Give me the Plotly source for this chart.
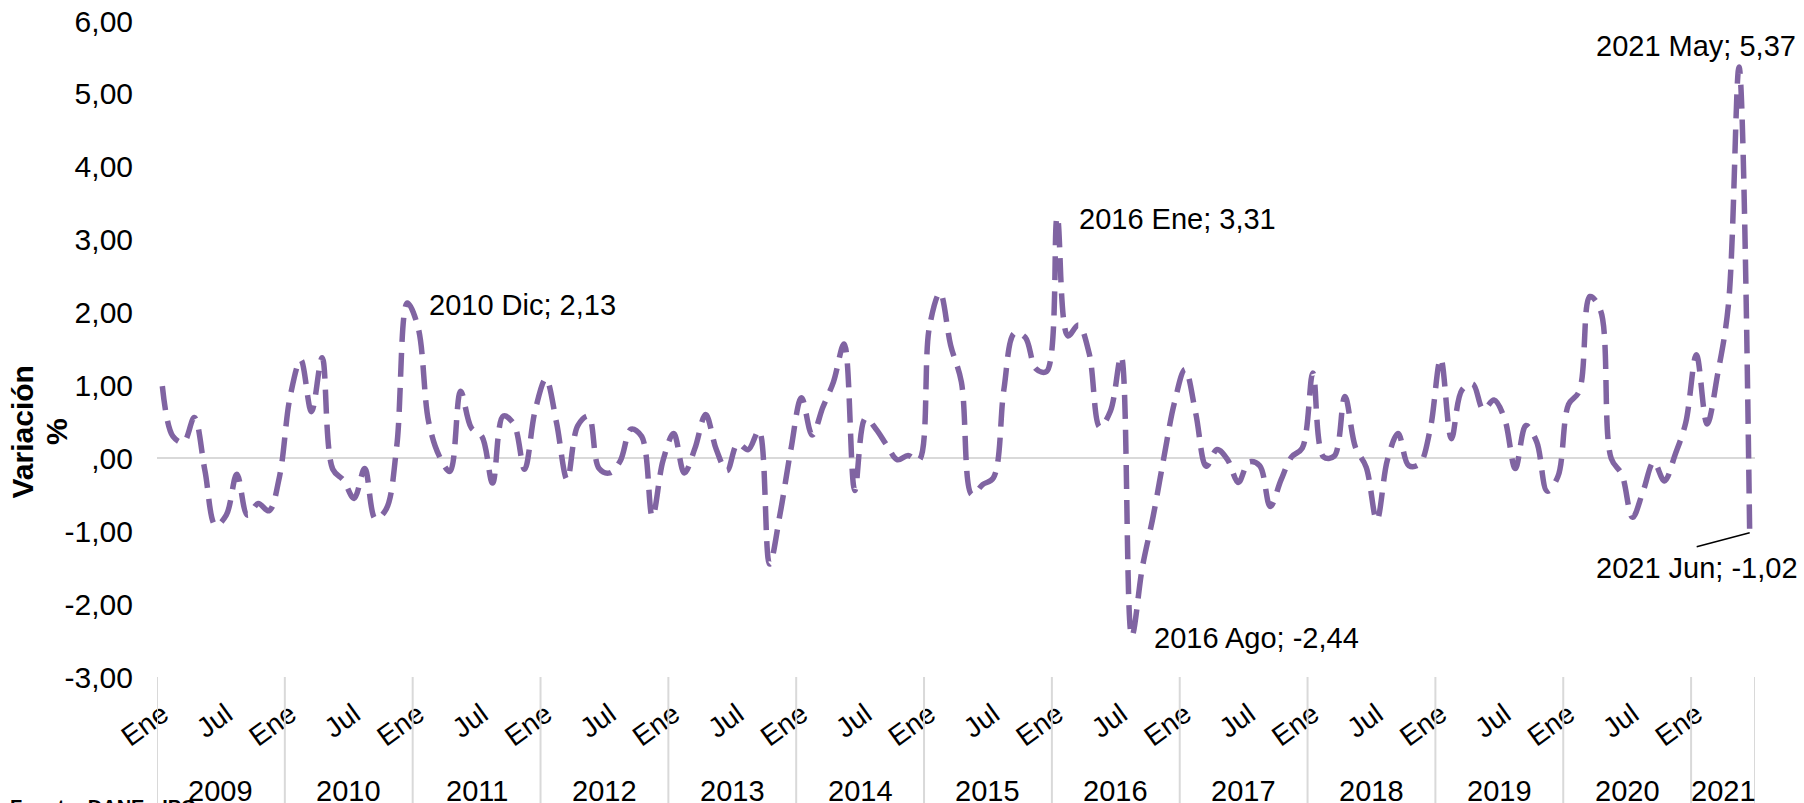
import plotly.graph_objects as go

# ---------------- data ----------------
month_names = ["Ene", "Feb", "Mar", "Abr", "May", "Jun", "Jul", "Ago", "Sep", "Oct", "Nov", "Dic"]
years = [2009, 2010, 2011, 2012, 2013, 2014, 2015, 2016, 2017, 2018, 2019, 2020, 2021]

v2009 = [0.99, 0.30, 0.22, 0.56, -0.17, -0.92, -0.78, -0.22, -0.78, -0.62, -0.72, -0.25]
v2010 = [0.85, 1.35, 0.64, 1.38, -0.15, -0.30, -0.55, -0.14, -0.83, -0.70, 0.16, 2.13]
v2011 = [1.80, 0.50, 0.03, -0.18, 0.92, 0.42, 0.30, -0.34, 0.58, 0.47, -0.15, 0.66]
v2012 = [1.09, 0.49, -0.29, 0.45, 0.58, -0.14, -0.20, -0.03, 0.40, 0.30, -0.80, -0.03]
v2013 = [0.34, -0.20, 0.14, 0.60, 0.12, -0.17, 0.20, 0.12, 0.38, -1.45, -0.75, 0.12]
v2014 = [0.83, 0.32, 0.70, 1.05, 1.57, -0.44, 0.55, 0.40, 0.18, -0.02, 0.04, -0.03]
v2015 = [1.80, 2.27, 1.55, 1.05, -0.50, -0.36, -0.27, 0.95, 1.72, 1.66, 1.23, 1.19]
v2016 = [3.31, 1.68, 1.83, 1.44, 0.43, 0.65, 1.40, -2.44, -1.49, -0.80, 0.00, 0.76]
v2017 = [1.22, 0.62, -0.11, 0.12, -0.02, -0.33, -0.05, -0.10, -0.66, -0.30, 0.02, 0.14]
v2018 = [1.17, 0.02, 0.03, 0.85, 0.15, -0.12, -0.85, -0.02, 0.34, -0.10, -0.08, 0.39]
v2019 = [1.37, 0.27, 0.94, 1.02, 0.67, 0.80, 0.54, -0.14, 0.45, 0.23, -0.45, -0.25]
v2020 = [0.74, 0.92, 2.22, 2.03, 0.00, -0.22, -0.81, -0.45, -0.05, -0.31, 0.05, 0.49]
v2021 = [1.42, 0.47, 1.16, 2.10, 5.37, -1.02]

yearly_values = [v2009, v2010, v2011, v2012, v2013, v2014, v2015,
                 v2016, v2017, v2018, v2019, v2020, v2021]

y_tick_values = [-3, -2, -1, 0, 1, 2, 3, 4, 5, 6]

# labelled points: (year, month index, text position)
highlights = [
    (2010, 11, "right"),
    (2016, 0, "right"),
    (2016, 7, "right"),
    (2021, 4, "above"),
    (2021, 5, "below"),
]

# ---------------- build series ----------------
values, xs, hover = [], [], []
year_start = {}
idx = 0
for yr, vals in zip(years, yearly_values):
    year_start[yr] = idx
    for m, v in enumerate(vals):
        values.append(v)
        xs.append(idx)
        hover.append(f"{yr} {month_names[m]}")
        idx += 1
n = len(values)


def fmt(v):
    s = f"{abs(v):.2f}".replace(".", ",")
    if s.startswith("0,"):
        s = s[1:]
    return ("-" if v < 0 else "") + s


FONT = "Liberation Sans, Arial, sans-serif"

fig = go.Figure()
fig.add_trace(go.Scatter(
    x=xs, y=values, mode="lines",
    line=dict(color="#8064A2", width=5.5, dash="24px,11px", shape="spline", smoothing=1.0),
    text=hover, hovertemplate="%{text}; %{y:.2f}<extra></extra>",
    showlegend=False,
))

tickvals = [i for i in xs if i % 12 in (0, 6)]
ticktext = ["Ene" if i % 12 == 0 else "Jul" for i in tickvals]

fig.update_layout(
    width=1804, height=803,
    margin=dict(l=157, r=49, t=21, b=126),
    paper_bgcolor="white", plot_bgcolor="white",
    font=dict(family=FONT, color="black"),
    xaxis=dict(
        range=[-0.5, n - 0.5], showgrid=False, zeroline=False, showline=False,
        tickmode="array", tickvals=tickvals, ticktext=ticktext, tickangle=-36,
        ticks="outside", ticklen=9, tickcolor="rgba(0,0,0,0)",
        tickfont=dict(size=28, family=FONT, color="black"), automargin=False,
    ),
    yaxis=dict(
        range=[-3, 6], showgrid=False, showline=False,
        zeroline=True, zerolinecolor="#D9D9D9", zerolinewidth=2,
        tickmode="array", tickvals=y_tick_values, ticktext=[fmt(v) for v in y_tick_values],
        ticks="outside", ticklen=17, tickcolor="rgba(0,0,0,0)",
        tickfont=dict(size=30, family=FONT, color="black"), automargin=False,
    ),
)

# year separators (below the plot) and year labels
plot_h = 803 - 21 - 126
boundaries = [year_start[y] - 0.5 for y in years] + [n - 0.5]
shapes = []
for b in boundaries:
    shapes.append(dict(type="line", xref="x", yref="paper", x0=b, x1=b, y0=0, y1=-130 / plot_h,
                       line=dict(color="#D9D9D9", width=2)))

annotations = []
for k, yr in enumerate(years):
    a, bnd = boundaries[k], boundaries[k + 1]
    annotations.append(dict(x=(a + bnd) / 2, xref="x", y=(677 - 791) / plot_h, yref="paper",
                            text=str(yr), showarrow=False, xanchor="center", yanchor="middle",
                            font=dict(size=29, family=FONT, color="black")))

# axis title
annotations.append(dict(x=(22.5 - 157) / 1598, xref="paper", y=(677 - 432) / plot_h, yref="paper",
                        text="<b>Variación</b>", textangle=-90, showarrow=False,
                        xanchor="center", yanchor="middle",
                        font=dict(size=30, family=FONT, color="black")))
annotations.append(dict(x=(57 - 157) / 1598, xref="paper", y=(677 - 432) / plot_h, yref="paper",
                        text="<b>%</b>", textangle=-90, showarrow=False,
                        xanchor="center", yanchor="middle",
                        font=dict(size=30, family=FONT, color="black")))

# source note (cut by the page bottom)
annotations.append(dict(x=(8 - 157) / 1598, xref="paper", y=(677 - 794) / plot_h, yref="paper",
                        text="<b>Fuente: DANE - IPC</b>", showarrow=False,
                        xanchor="left", yanchor="top",
                        font=dict(size=20, family=FONT, color="black")))

# data labels
for yr, m, pos in highlights:
    i = year_start[yr] + m
    v = values[i]
    txt = f"{yr} {month_names[m]}; {fmt(v)}"
    if pos == "right":
        ann = dict(xanchor="left", yanchor="middle", xshift=20, yshift=-2)
    elif pos == "above":
        ann = dict(xanchor="right", yanchor="middle", xshift=59, yshift=21)
    else:
        ann = dict(xanchor="right", yanchor="middle", xshift=50, yshift=-35)
    annotations.append(dict(x=i, y=v, xref="x", yref="y", text=txt, showarrow=False,
                            font=dict(size=29, family=FONT, color="black"), **ann))
    if pos == "below":
        shapes.append(dict(type="line", xref="x", yref="y", xsizemode="pixel", ysizemode="pixel",
                           xanchor=i, yanchor=v, x0=0, y0=0, x1=-53, y1=-14,
                           line=dict(color="black", width=1.5)))

fig.update_layout(shapes=shapes, annotations=annotations)

fig.write_html("out.html",
               config={"displayModeBar": False},
               post_script="document.body.style.margin='0';document.body.style.overflow='hidden';")
